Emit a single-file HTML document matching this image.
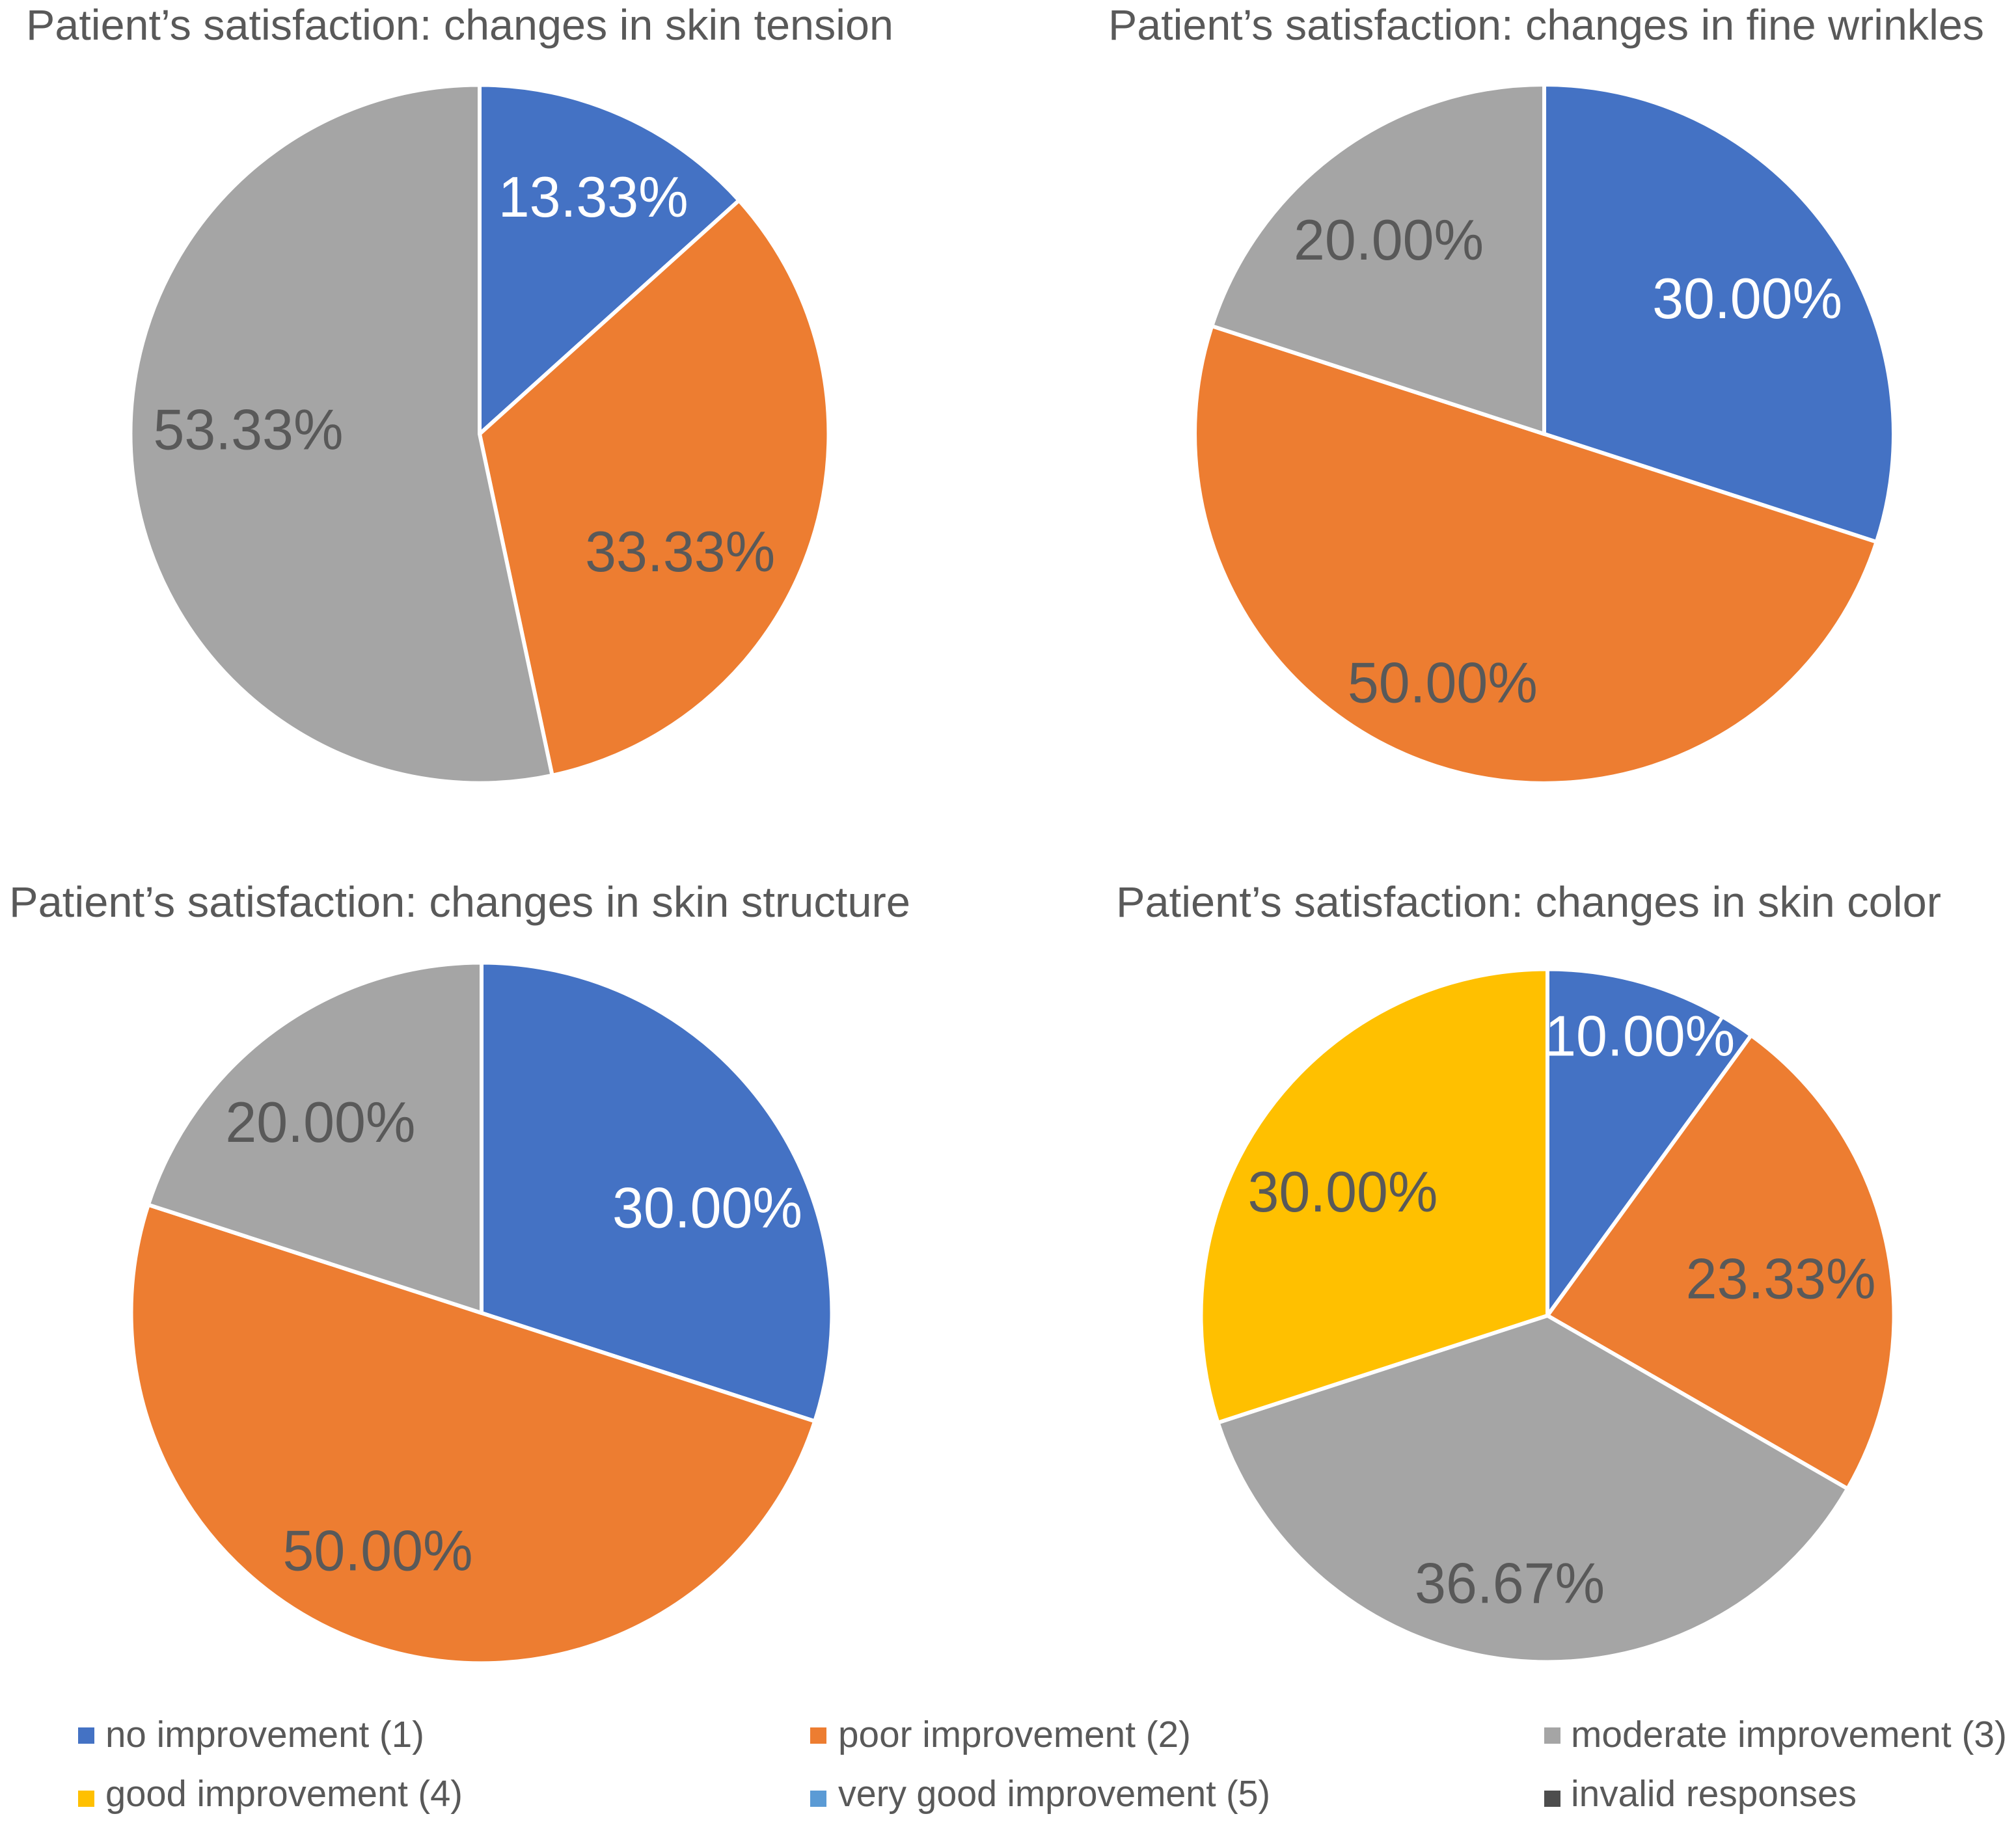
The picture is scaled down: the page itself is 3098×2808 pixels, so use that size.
<!DOCTYPE html>
<html lang="en">
<head>
<meta charset="utf-8">
<title>Patient's satisfaction pie charts</title>
<style>
html,body{margin:0;padding:0;background:#fff;}
svg{display:block;font-family:"Liberation Sans",sans-serif;}
.t{font-size:66px;fill:#595959;}
.l{font-size:57px;fill:#595959;}
</style>
</head>
<body>
<svg id="chart" xmlns="http://www.w3.org/2000/svg" width="3098" height="2808" viewBox="0 0 3098 2808">
<rect width="3098" height="2808" fill="#fff"/>
<text class="t" x="40" y="61" textLength="1333" lengthAdjust="spacingAndGlyphs">Patient’s satisfaction: changes in skin tension</text>
<text class="t" x="1703" y="61" textLength="1346" lengthAdjust="spacingAndGlyphs">Patient’s satisfaction: changes in fine wrinkles</text>
<text class="t" x="14" y="1409" textLength="1385" lengthAdjust="spacingAndGlyphs">Patient’s satisfaction: changes in skin structure</text>
<text class="t" x="1715" y="1409" textLength="1268" lengthAdjust="spacingAndGlyphs">Patient’s satisfaction: changes in skin color</text>
<g id="pies"></g>
<g>
<rect x="120" y="2655" width="25" height="25" fill="#4472C4"/>
<text class="l" x="162" y="2685" textLength="490" lengthAdjust="spacingAndGlyphs">no improvement (1)</text>
<rect x="1245" y="2655" width="25" height="25" fill="#ED7D31"/>
<text class="l" x="1288" y="2685" textLength="542" lengthAdjust="spacingAndGlyphs">poor improvement (2)</text>
<rect x="2373" y="2655" width="25" height="25" fill="#A5A5A5"/>
<text class="l" x="2414" y="2685" textLength="670" lengthAdjust="spacingAndGlyphs">moderate improvement (3)</text>
<rect x="120" y="2752" width="25" height="25" fill="#FFC000"/>
<text class="l" x="162" y="2776" textLength="549" lengthAdjust="spacingAndGlyphs">good improvement (4)</text>
<rect x="1245" y="2752" width="25" height="25" fill="#5B9BD5"/>
<text class="l" x="1288" y="2776" textLength="664" lengthAdjust="spacingAndGlyphs">very good improvement (5)</text>
<rect x="2373" y="2752" width="25" height="25" fill="#4D4D4D"/>
<text class="l" x="2414" y="2776" textLength="439" lengthAdjust="spacingAndGlyphs">invalid responses</text>
</g>
</svg>
<script>
// Data (percent of patients per category)
const categories = ['no improvement (1)', 'poor improvement (2)', 'moderate improvement (3)', 'good improvement (4)', 'very good improvement (5)', 'invalid responses'];
const skinTensionValues = [13.33, 33.33, 53.33, 0, 0, 0];
const fineWrinklesValues = [30, 50, 20, 0, 0, 0];
const skinStructureValues = [30, 50, 20, 0, 0, 0];
const skinColorValues = [10, 23.33, 36.67, 30, 0, 0];

// Styling
const sliceColors = ['#4472C4', '#ED7D31', '#A5A5A5', '#FFC000', '#5B9BD5', '#4D4D4D'];
const labelColors = ['#FFFFFF', '#595959', '#595959', '#595959', '#595959', '#595959'];
const NS = 'http://www.w3.org/2000/svg';
const root = document.getElementById('pies');

function angleAt(sharePct) {
  return sharePct / 100 * 2 * Math.PI;
}
function polar(cx, cy, r, a) {
  return [cx + r * Math.sin(a), cy - r * Math.cos(a)];
}

function drawPie(name, values, cx, cy, r, nudges) {
  const group = document.createElementNS(NS, 'g');
  
  
  root.appendChild(group);
  const total = values.reduce((a, b) => a + b, 0);
  let cum = 0;
  const labels = [];
  values.forEach((v, i) => {
    if (v <= 0) return;
    const start = angleAt(cum / total * 100);
    cum += v;
    const end = angleAt(cum / total * 100);
    const p0 = polar(cx, cy, r, start);
    const p1 = polar(cx, cy, r, end);
    const large = end - start > Math.PI ? 1 : 0;
    const path = document.createElementNS(NS, 'path');
    path.setAttribute('d', 'M' + cx + ' ' + cy + 'L' + p0[0] + ' ' + p0[1] + 'A' + r + ' ' + r + ' 0 ' + large + ' 1 ' + p1[0] + ' ' + p1[1] + 'Z');
    path.setAttribute('fill', sliceColors[i]);
    path.setAttribute('stroke', '#fff');
    path.setAttribute('stroke-width', '6');
    path.setAttribute('stroke-linejoin', 'round');
    
    
    group.appendChild(path);
    const mid = polar(cx, cy, r * 0.7, (start + end) / 2);
    const n = nudges[i] || [0, 0];
    labels.push({ x: mid[0] + n[0], y: mid[1] + n[1], text: v.toFixed(2) + '%', i: i });
  });
  labels.forEach(l => {
    const t = document.createElementNS(NS, 'text');
    t.setAttribute('x', l.x);
    t.setAttribute('y', l.y + 28);
    t.setAttribute('text-anchor', 'middle');
    t.setAttribute('font-size', '88');
    t.setAttribute('textLength', '292');
    t.setAttribute('lengthAdjust', 'spacingAndGlyphs');
    t.setAttribute('fill', labelColors[l.i]);
    
    
    t.textContent = l.text;
    group.appendChild(t);
  });
}

drawPie('skin-tension', skinTensionValues, 737, 667, 536.5, [[22, -19], [-49, 67], [18, -44]]);
drawPie('fine-wrinkles', fineWrinklesValues, 2373, 667, 537, [[8, 15], [-40, 27], [-18, 8]]);
drawPie('skin-structure', skinStructureValues, 740, 2018, 538.5, [[42, 62], [-43, 9], [-26, 14]]);
drawPie('skin-color', skinColorValues, 2378, 2022, 532.5, [[27, -73], [-6, 23], [-19, 43], [-13, 31]]);
</script>
</body>
</html>
